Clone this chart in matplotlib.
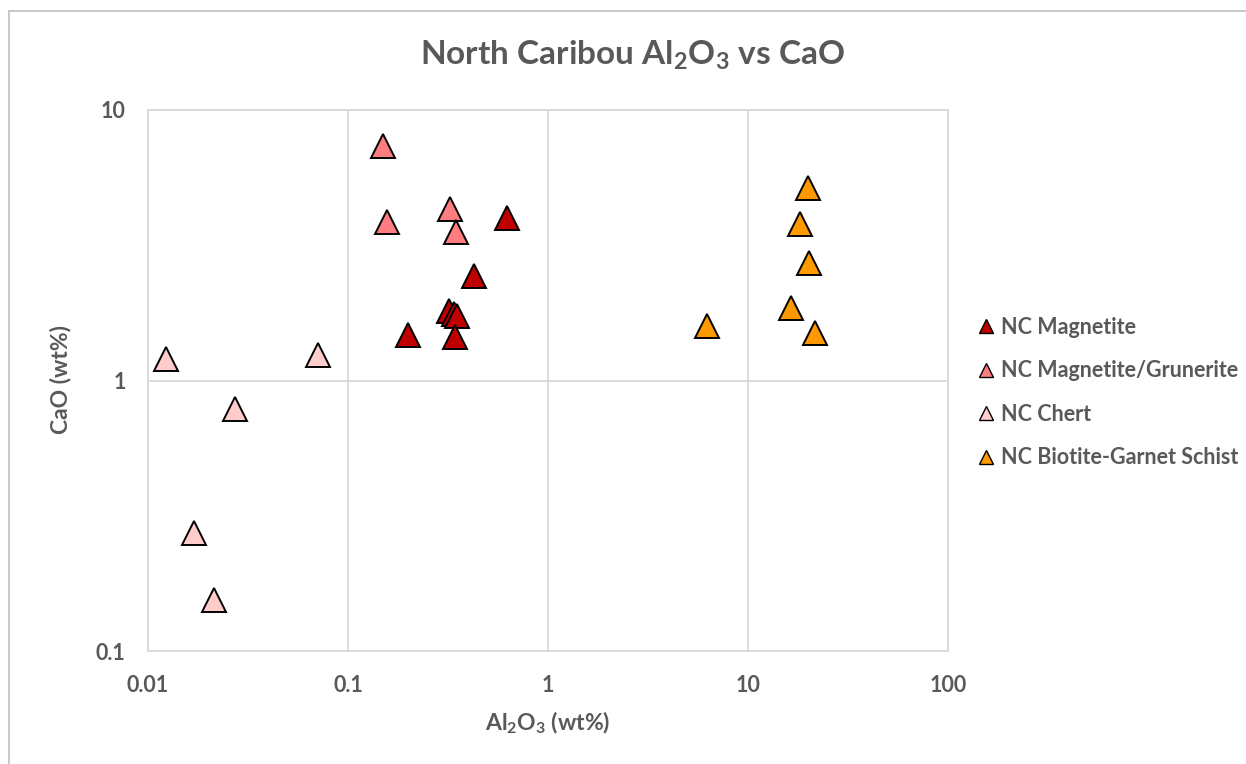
import matplotlib
matplotlib.use("Agg")
import matplotlib.pyplot as plt
from matplotlib.patches import Rectangle
from matplotlib.lines import Line2D

plt.rcParams['font.family'] = ['Lato', 'DejaVu Sans']
plt.rcParams['font.weight'] = 'bold'
plt.rcParams['mathtext.fontset'] = 'custom'
plt.rcParams['mathtext.rm'] = 'Lato:bold'
plt.rcParams['mathtext.it'] = 'Lato:bold'
plt.rcParams['mathtext.bf'] = 'Lato:bold'

# Al2O3 (x) and CaO (y), wt%
magnetite_al = [0.626, 0.425, 0.319, 0.337, 0.350, 0.199, 0.343]
magnetite_ca = [4.00, 2.43, 1.80, 1.76, 1.73, 1.476, 1.45]

grunerite_al = [0.150, 0.157, 0.322, 0.348]
grunerite_ca = [7.35, 3.84, 4.30, 3.55]

chert_al = [0.01235, 0.0705, 0.0272, 0.0169, 0.0213]
chert_ca = [1.20, 1.24, 0.785, 0.274, 0.155]

schist_al = [19.9, 18.2, 20.2, 16.4, 21.6, 6.24]
schist_ca = [5.15, 3.80, 2.72, 1.85, 1.50, 1.59]

x_ticks = [0.01, 0.1, 1, 10, 100]
x_tick_labels = ['0.01', '0.1', '1', '10', '100']
y_ticks = [0.1, 1, 10]
y_tick_labels = ['0.1', '1', '10']

series = [
    ('NC Magnetite', magnetite_al, magnetite_ca, '#C00000'),
    ('NC Magnetite/Grunerite', grunerite_al, grunerite_ca, '#FF7C80'),
    ('NC Chert', chert_al, chert_ca, '#FFCCCC'),
    ('NC Biotite-Garnet Schist', schist_al, schist_ca, '#FF9900'),
]

TEXT = '#595959'
GRID = '#D9D9D9'

fig = plt.figure(figsize=(12.46, 7.64), dpi=100)
W, H = 1246, 764

# chart area border
fig.patches.append(Rectangle((8.5 / W, -0.1), 1.2, 1.1 - 11 / H, transform=fig.transFigure,
                             fill=False, edgecolor='#C4C4C4', linewidth=1.3))

ax = fig.add_axes([148 / W, 1 - 651 / H, 800 / W, 541 / H])
ax.set_xscale('log')
ax.set_yscale('log')
ax.set_xlim(0.01, 100)
ax.set_ylim(0.1, 10)

handles = []
for name, xs, ys, color in series:
    ax.plot(xs, ys, linestyle='none', marker='^', markersize=17.5,
            markerfacecolor=color, markeredgecolor='black', markeredgewidth=1.4,
            zorder=3)
    handles.append(Line2D([], [], linestyle='none', marker='^', markersize=9.5,
                          markerfacecolor=color, markeredgecolor='black',
                          markeredgewidth=1.0, label=name))

ax.set_xticks(x_ticks)
ax.set_xticklabels(x_tick_labels)
ax.set_yticks(y_ticks)
ax.set_yticklabels(y_tick_labels)
ax.minorticks_off()
ax.tick_params(axis='both', length=0, labelsize=15.5, labelcolor=TEXT)
ax.tick_params(axis='x', pad=17)
ax.tick_params(axis='y', pad=16)
ax.grid(True, which='major', color=GRID, linewidth=1.3)
ax.set_axisbelow(True)
for sp in ax.spines.values():
    sp.set_color(GRID)
    sp.set_linewidth(1.3)

fig.text(632 / W, 1 - 65 / H, r'North Caribou Al$_{2}$O$_{3}$ vs CaO', ha='center', va='baseline',
         fontsize=24, color=TEXT, fontweight='bold')
fig.text(548 / W, 1 - 730 / H, r'Al$_{2}$O$_{3}$ (wt%)', ha='center', va='baseline',
         fontsize=16.5, color=TEXT, fontweight='bold')
fig.text(61 / W, 1 - 380 / H, 'CaO (wt%)', ha='center', va='center', rotation=90,
         fontsize=16.5, color=TEXT, fontweight='bold')

leg = fig.legend(handles=handles, loc='center left', bbox_to_anchor=(975 / W, 1 - 392.5 / H),
                 frameon=False, fontsize=15.5, labelspacing=1.04, handletextpad=0.2,
                 handlelength=1.0, borderaxespad=0, borderpad=0)
for t in leg.get_texts():
    t.set_color(TEXT)

fig.savefig('out.png', dpi=100)
